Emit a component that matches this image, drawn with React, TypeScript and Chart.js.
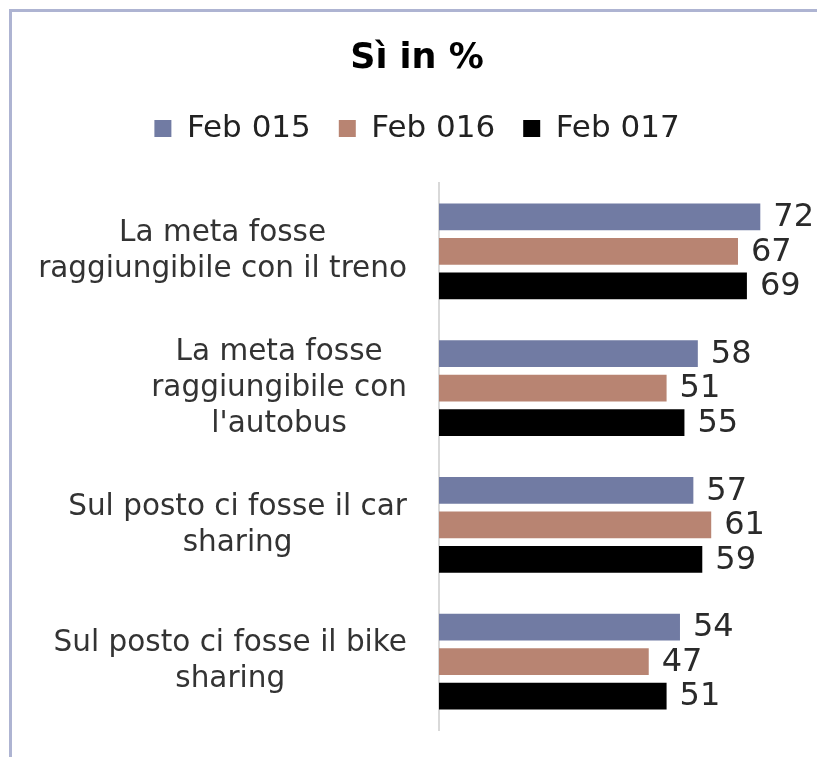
import React, { useEffect, useRef } from "react";
import { Chart, registerables } from "chart.js";

Chart.register(...registerables);

const categories: string[][] = [
  ["La meta fosse", "raggiungibile con il treno"],
  ["La meta fosse", "raggiungibile con", "l'autobus"],
  ["Sul posto ci fosse il car", "sharing"],
  ["Sul posto ci fosse il bike", "sharing"],
];
const seriesNames = ["Feb 015", "Feb 016", "Feb 017"];
const feb015 = [72, 58, 57, 54];
const feb016 = [67, 51, 61, 47];
const feb017 = [69, 55, 59, 51];
const seriesColors = ["#717BA3", "#B88472", "#000000"];

const FONT = "'DejaVu Sans', sans-serif";

const labelsPlugin = {
  id: "customLabels",
  beforeLayout(chart: any) {
    const lg = chart.legend;
    if (lg && !lg.__patched) {
      const proto = Object.getPrototypeOf(lg);
      lg.fit = function () {
        proto.fit.call(this);
        this.height += 29;
      };
      lg.__patched = true;
    }
  },
  afterDatasetsDraw(chart: any) {
    const ctx = chart.ctx;
    ctx.save();
    ctx.font = `32px ${FONT}`;
    ctx.fillStyle = "#2a2a2a";
    ctx.textAlign = "left";
    ctx.textBaseline = "middle";
    chart.data.datasets.forEach((ds: any, di: number) => {
      const meta = chart.getDatasetMeta(di);
      meta.data.forEach((bar: any, i: number) => {
        ctx.fillText(String(ds.data[i]), bar.x + 13, bar.y + 1);
      });
    });
    const yScale = chart.scales.y;
    ctx.font = `29.5px ${FONT}`;
    ctx.fillStyle = "#333333";
    ctx.textAlign = "center";
    const right = chart.chartArea.left - 32;
    const lh = 36;
    categories.forEach((lines, i) => {
      const cy = yScale.getPixelForValue(i);
      const maxW = Math.max(...lines.map((l) => ctx.measureText(l).width));
      const cx = right - maxW / 2;
      const y0 = cy - ((lines.length - 1) * lh) / 2;
      lines.forEach((l, k) => ctx.fillText(l, cx, y0 + k * lh));
    });
    ctx.restore();
  },
};

export default function App() {
  const ref = useRef<HTMLCanvasElement>(null);
  useEffect(() => {
    const chart = new Chart(ref.current!, {
      type: "bar",
      data: {
        labels: categories.map((c) => c.join(" ")),
        datasets: [feb015, feb016, feb017].map((d, i) => ({
          label: seriesNames[i],
          data: d,
          backgroundColor: seriesColors[i],
          categoryPercentage: 0.757,
          barPercentage: 0.78,
        })),
      },
      options: {
        indexAxis: "y",
        animation: false,
        responsive: false,
        maintainAspectRatio: false,
        layout: { padding: { left: 38, right: 21, top: 0, bottom: 27 } },
        scales: {
          x: { display: false, min: 0, max: 80 },
          y: {
            ticks: { display: false },
            grid: { display: false },
            border: { display: true, color: "#D9D9D9", width: 2 },
            afterFit: (s: any) => {
              s.width = 401;
            },
          },
        },
        plugins: {
          tooltip: { enabled: false },
          title: {
            display: true,
            text: "Sì in %",
            color: "#000000",
            font: { family: FONT, size: 35, weight: "bold" },
            padding: { top: 38, bottom: 5 },
          },
          legend: {
            display: true,
            labels: {
              color: "#222222",
              font: { family: FONT, size: 31 },
              boxWidth: 17,
              boxHeight: 17,
              padding: 28,
            },
          },
        },
      },
      plugins: [labelsPlugin],
    });
    return () => chart.destroy();
  }, []);
  return (
    <div style={{ position: "absolute", left: 0, top: 0, width: 817, height: 757, background: "#fff", overflow: "hidden" }}>
      <canvas ref={ref} width={817} height={757} style={{ position: "absolute", left: 0, top: 0 }} />
      <div
        style={{
          position: "absolute",
          left: 9,
          top: 9,
          width: 900,
          height: 745,
          borderLeft: "3px solid #AEB4D2",
          borderTop: "3px solid #AEB4D2",
          borderBottom: "1px solid #EBEBEB",
          pointerEvents: "none",
        }}
      />
    </div>
  );
}
